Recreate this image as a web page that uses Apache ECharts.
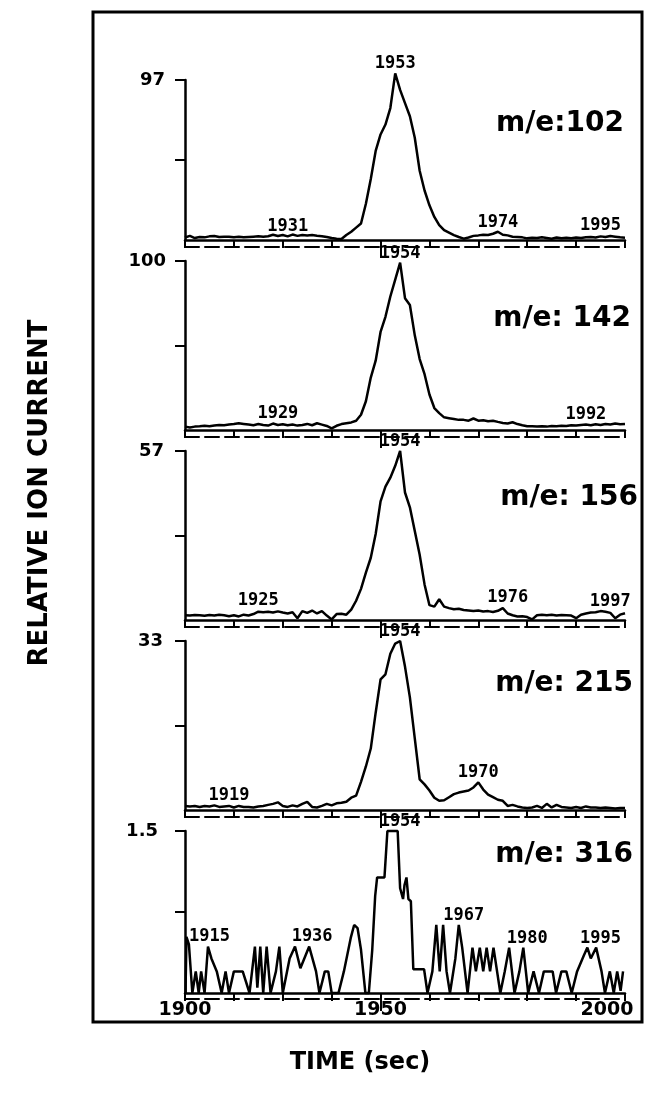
<!DOCTYPE html>
<html>
<head>
<meta charset="utf-8">
<script src="https://cdn.jsdelivr.net/npm/echarts@6.0.0/dist/echarts.min.js"></script>
<style>
html,body{margin:0;padding:0;background:#fff;}
#chart{width:646px;height:1099px;}
</style>
</head>
<body>
<div id="chart"></div>
<script>
// ---------------- DATA ----------------
const scans = [
  1910,1911,1912,1913,1914,1915,1916,1917,1918,1919,
  1920,1921,1922,1923,1924,1925,1926,1927,1928,1929,
  1930,1931,1932,1933,1934,1935,1936,1937,1938,1939,
  1940,1941,1942,1943,1944,1945,1946,1947,1948,1949,
  1950,1951,1952,1953,1954,1955,1956,1957,1958,1959,
  1960,1961,1962,1963,1964,1965,1966,1967,1968,1969,
  1970,1971,1972,1973,1974,1975,1976,1977,1978,1979,
  1980,1981,1982,1983,1984,1985,1986,1987,1988,1989,
  1990,1991,1992,1993,1994,1995,1996,1997,1998,1999,
  2000
];
const mz102 = [
  1.5,2.5,1.2,1.8,1.6,2.2,2.4,1.8,1.9,2.0,
  1.7,1.9,1.6,1.8,2.0,2.2,2.0,2.3,3.2,2.4,
  3.0,2.2,3.3,2.5,3.0,2.8,3.0,2.6,2.3,1.8,
  1.2,0.8,0.6,3.0,5.0,7.5,10,22,37,54,
  64,70,80,101,91,83,75,62,42,30,
  21,14,9,6,4.5,3.0,1.8,0.8,1.5,2.5,
  2.8,3.2,3.0,3.8,5.0,3.2,2.8,2.0,1.8,1.6,
  1.0,1.4,1.2,1.6,1.2,0.8,1.5,1.0,1.4,1.1,
  1.5,1.2,1.6,1.8,1.5,2.2,1.8,2.4,2.0,1.6,
  1.4
];
const mz142 = [
  2.0,1.5,2.0,2.2,2.5,2.2,2.6,3.0,2.8,3.2,
  3.5,4.0,3.6,3.2,2.8,3.5,3.0,2.6,3.8,3.0,
  3.4,2.8,3.2,2.6,3.0,3.6,2.8,4.0,3.2,2.4,
  1.0,2.5,3.5,4.0,4.5,5.5,9,17,31,41,
  58,67,79,89,99,78,74,56,42,33,
  21,13,10,7.5,7.0,6.5,6.0,6.0,5.5,6.8,
  5.5,5.8,5.2,5.5,4.8,4.2,3.8,4.6,3.5,2.8,
  2.2,2.2,2.0,2.2,2.0,2.3,2.2,2.5,2.4,2.8,
  2.6,3.0,3.2,2.8,3.4,3.0,3.6,3.2,3.8,3.4,
  3.6
];
const mz156 = [
  1.6,1.5,1.7,1.6,1.4,1.7,1.5,1.8,1.6,1.3,
  1.6,1.2,1.8,1.5,2.0,2.8,2.6,2.8,2.5,2.9,
  2.5,2.2,2.6,0.6,3.0,2.4,3.2,2.2,3.0,1.5,
  0.2,2.0,2.1,1.8,3.5,6.5,10.5,16,21,29,
  40,45,48,52,57,43,38,30,22,12,
  5,4.5,7.0,4.5,4,3.6,3.8,3.4,3.2,3.0,
  3.2,2.9,3.0,2.7,3.1,4.0,2.2,1.6,1.2,1.3,
  1.0,0.2,1.6,1.8,1.6,1.8,1.5,1.7,1.6,1.5,
  0.6,1.8,2.2,2.5,2.6,3.0,2.8,2.4,0.6,1.8,
  2.3
];
const mz215 = [
  0.8,0.7,0.8,0.6,0.8,0.7,0.9,0.6,0.7,0.8,
  0.5,0.8,0.6,0.6,0.5,0.7,0.8,1.0,1.2,1.5,
  0.8,0.6,0.9,0.7,1.2,1.6,0.6,0.5,0.8,1.2,
  0.9,1.3,1.4,1.6,2.4,2.8,5.5,8.5,12,19,
  25.5,26.5,30.5,32.5,33,28,22,14,6,5,
  3.8,2.4,1.8,1.9,2.5,3.1,3.4,3.6,3.8,4.4,
  5.4,4.0,3.0,2.5,2.0,1.8,0.8,1.0,0.7,0.5,
  0.4,0.5,0.8,0.4,1.2,0.5,1.0,0.6,0.5,0.4,
  0.6,0.4,0.7,0.5,0.5,0.4,0.5,0.4,0.3,0.4,
  0.4
];
const times316 = [
  1910.1,1910.3,1910.8,1911.5,1912.2,1912.8,1913.3,1914.0,1914.7,1915.4,
  1916.5,1917.5,1918.3,1919.0,1920.0,1921.8,1923.2,1924.3,1924.8,1925.4,
  1926.0,1926.7,1927.5,1928.6,1929.3,1930.0,1931.4,1932.5,1933.6,1935.4,
  1936.8,1937.5,1938.6,1939.3,1940.0,1941.4,1942.5,1943.9,1944.6,1945.3,
  1946.0,1946.9,1947.6,1948.3,1948.9,1949.3,1950.8,1951.4,1953.5,1954.0,
  1954.6,1954.9,1955.3,1955.7,1956.2,1956.7,1958.9,1959.6,1960.6,1961.4,
  1962.1,1962.8,1963.5,1964.2,1965.3,1966.0,1966.7,1967.8,1968.8,1969.5,
  1970.3,1971.0,1971.7,1972.4,1973.1,1974.5,1975.4,1976.3,1977.4,1978.4,
  1979.2,1980.2,1981.3,1982.4,1983.4,1985.2,1985.9,1987.0,1988.0,1989.1,
  1990.2,1991.6,1992.3,1993.0,1994.1,1995.2,1995.9,1996.9,1997.7,1998.4,
  1999.1,1999.6
];
const mz316 = [
  0.0,0.52,0.45,0.0,0.2,0.0,0.2,0.0,0.43,0.32,
  0.2,0.0,0.2,0.0,0.2,0.2,0.0,0.43,0.05,0.43,
  0.0,0.43,0.0,0.2,0.43,0.0,0.32,0.43,0.23,0.43,
  0.2,0.0,0.2,0.2,0.0,0.0,0.2,0.51,0.63,0.6,
  0.4,0.0,0.0,0.4,0.9,1.07,1.07,1.5,1.5,0.97,
  0.87,1.0,1.07,0.87,0.85,0.22,0.22,0.0,0.2,0.63,
  0.2,0.63,0.2,0.0,0.32,0.63,0.42,0.0,0.42,0.2,
  0.42,0.2,0.42,0.2,0.42,0.0,0.2,0.42,0.0,0.2,
  0.42,0.0,0.2,0.0,0.2,0.2,0.0,0.2,0.2,0.0,
  0.2,0.35,0.42,0.32,0.42,0.2,0.0,0.2,0.0,0.2,
  0.02,0.2
];
// peak annotations: [scan number, intensity]
const peaks102 = [[1931,2.6],[1953,101],[1974,5.0],[1995,2.8]];
const peaks142 = [[1929,4.0],[1954,99],[1992,3.6]];
const peaks156 = [[1925,3.2],[1954,57],[1976,4.2],[1997,3.0]];
const peaks215 = [[1919,0.9],[1954,33],[1970,5.4]];
const peaks316 = [[1915,0.43],[1936,0.43],[1954,1.5],[1967,0.63],[1980,0.42],[1995,0.42]];

const yTops = [97, 100, 57, 33, 1.5];
const massLabels = ['m/e:102', 'm/e: 142', 'm/e: 156', 'm/e: 215', 'm/e: 316'];
const xTickValues = [1910, 1950, 2000];
const xTickLabels = ['1900', '1950', '2000'];
const xMin = 1910, xMax = 2000, xStep = 10, xMajor = 1950;
const yTitle = 'RELATIVE ION CURRENT';
const xTitle = 'TIME (sec)';

// ---------------- LAYOUT ----------------
const panelTops = [80, 261, 451, 641, 831];
const panelHeights = [160, 169, 169, 169, 162];
const massLabelRight = [624, 631, 638, 633, 633];
const massLabelY = [124, 319, 498, 684, 855];
const yLabelMargin = [20, 19, 21, 22, 27];

const seriesTimes = [scans, scans, scans, scans, times316];
const seriesValues = [mz102, mz142, mz156, mz215, mz316];
const peakSets = [peaks102, peaks142, peaks156, peaks215, peaks316];

const BLACK = '#000';
const grids = [], xAxes = [], yAxes = [], series = [], graphics = [];

panelTops.forEach((top, i) => {
  grids.push({left: 185, right: 21, top: top, height: panelHeights[i]});
  const last = i === panelTops.length - 1;
  xAxes.push({
    gridIndex: i, type: 'value', min: xMin, max: xMax, interval: xStep, position: 'bottom',
    axisLine: {onZero: false, lineStyle: {color: BLACK, width: 2.5}},
    axisTick: {show: true, length: 8, lineStyle: {color: BLACK, width: 2}},
    splitLine: {show: false},
    axisLabel: last ? {
      show: true, customValues: xTickValues, margin: 8,
      color: BLACK, fontSize: 19, fontWeight: 'bold', fontFamily: 'DejaVu Sans',
      formatter: (v) => {
        const k = xTickValues.indexOf(v);
        const t = xTickLabels[k];
        return k === xTickValues.length - 1 ? '{e|' + t + '}' : t;
      },
      rich: {e: {padding: [0, 36, 0, 0], color: BLACK, fontSize: 19, fontWeight: 'bold', fontFamily: 'DejaVu Sans'}}
    } : {show: false}
  });
  xAxes.push({
    gridIndex: i, type: 'value', min: xMin, max: xMax, position: 'bottom', offset: last ? 6 : 7,
    axisLine: {onZero: false, lineStyle: {color: BLACK, width: 2, type: [14, 6]}},
    axisTick: {show: false}, axisLabel: {show: false}, splitLine: {show: false}
  });
  xAxes.push({
    gridIndex: i, type: 'value', min: xMin, max: xMax, position: 'bottom',
    axisLine: {show: false, onZero: false},
    axisTick: {show: true, customValues: [xMajor], length: 18, lineStyle: {color: BLACK, width: 2}},
    axisLabel: {show: false}, splitLine: {show: false}
  });
  const m = yTops[i];
  yAxes.push({
    gridIndex: i, type: 'value', min: 0, max: m,
    axisLine: {show: true, onZero: false, lineStyle: {color: BLACK, width: 2.5}},
    axisTick: {show: true, customValues: [m / 2, m], length: 10, lineStyle: {color: BLACK, width: 2}},
    axisLabel: {show: true, customValues: [m], margin: yLabelMargin[i], color: BLACK,
      fontSize: 18, fontWeight: 'bold', fontFamily: 'DejaVu Sans', formatter: (v) => String(v)},
    splitLine: {show: false}
  });
  const ts = seriesTimes[i], vs = seriesValues[i];
  series.push({
    type: 'line', xAxisIndex: i * 3, yAxisIndex: i,
    data: ts.map((t, k) => [t, vs[k]]),
    showSymbol: false, symbol: 'none', clip: false, silent: true,
    lineStyle: {color: BLACK, width: 2.5}, animation: false
  });
  series.push({
    type: 'scatter', xAxisIndex: i * 3, yAxisIndex: i,
    data: peakSets[i], symbolSize: 0, clip: false, silent: true, animation: false,
    itemStyle: {color: 'rgba(0,0,0,0)'},
    label: {show: true, position: 'top', distance: 1, color: BLACK, opacity: 1,
      fontSize: 17, fontWeight: 'bold', fontFamily: 'DejaVu Sans Mono',
      formatter: (p) => String(p.value[0])}
  });
  graphics.push({
    type: 'text', x: massLabelRight[i], y: massLabelY[i], silent: true,
    style: {text: massLabels[i], fill: BLACK, font: 'bold 28px "DejaVu Sans"',
      textAlign: 'right', textVerticalAlign: 'middle'}
  });
});

graphics.push({
  type: 'rect', silent: true,
  shape: {x: 93, y: 12, width: 549, height: 1010},
  style: {fill: 'none', stroke: BLACK, lineWidth: 3}
});
graphics.push({
  type: 'text', x: 40, y: 493, rotation: Math.PI / 2, silent: true,
  style: {text: yTitle, fill: BLACK, font: 'bold 26px "DejaVu Sans"',
    textAlign: 'center', textVerticalAlign: 'middle'}
});
graphics.push({
  type: 'text', x: 360, y: 1063, silent: true,
  style: {text: xTitle, fill: BLACK, font: 'bold 24px "DejaVu Sans"',
    textAlign: 'center', textVerticalAlign: 'middle'}
});

const chart = echarts.init(document.getElementById('chart'), null, {renderer: 'canvas'});
chart.setOption({
  backgroundColor: '#fff',
  animation: false,
  grid: grids,
  xAxis: xAxes,
  yAxis: yAxes,
  series: series,
  graphic: graphics
});
</script>
</body>
</html>
